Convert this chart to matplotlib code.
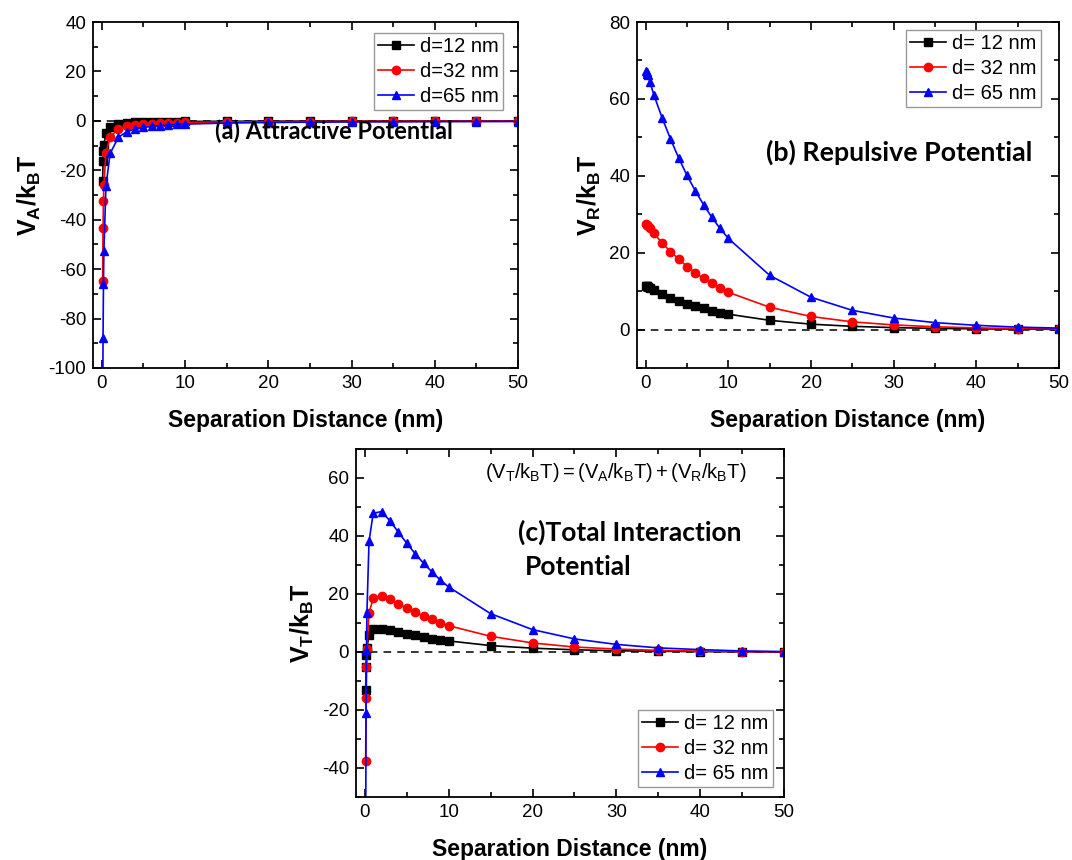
import matplotlib
matplotlib.use("Agg")
import matplotlib.pyplot as plt
from matplotlib.ticker import MultipleLocator

plt.rcParams['font.family'] = ['Liberation Sans', 'DejaVu Sans']
plt.rcParams['mathtext.fontset'] = 'custom'
plt.rcParams['mathtext.rm'] = 'Liberation Sans'
plt.rcParams['mathtext.it'] = 'Liberation Sans'
plt.rcParams['mathtext.bf'] = 'Liberation Sans:bold'
plt.rcParams['axes.unicode_minus'] = False

# separation distance (nm)
h = [0.1, 0.15, 0.2, 0.25, 0.5, 1, 2, 3, 4, 5, 6, 7, 8, 9, 10,
     15, 20, 25, 30, 35, 40, 45, 50]

# (a) attractive potential V_A/kBT
va_12 = [-24.4, -16.3, -12.2, -9.8, -4.9, -2.44, -1.22, -0.81, -0.61, -0.49, -0.41, -0.35,
         -0.31, -0.27, -0.24, -0.16, -0.12, -0.10, -0.08, -0.07, -0.06, -0.05, -0.05]
va_32 = [-65.0, -43.3, -32.5, -26.0, -13.0, -6.5, -3.25, -2.17, -1.63, -1.3, -1.08, -0.93,
         -0.81, -0.72, -0.65, -0.43, -0.33, -0.26, -0.22, -0.19, -0.16, -0.14, -0.13]
va_65 = [-132.0, -88.0, -66.0, -52.8, -26.4, -13.2, -6.6, -4.4, -3.3, -2.64, -2.2, -1.89,
         -1.65, -1.47, -1.32, -0.88, -0.66, -0.53, -0.44, -0.38, -0.33, -0.29, -0.26]

# (b) repulsive potential V_R/kBT
vr_12 = [11.3, 11.25, 11.2, 11.1, 10.8, 10.3, 9.2, 8.3, 7.5, 6.7, 6.1, 5.5,
         4.9, 4.4, 4.0, 2.4, 1.4, 0.84, 0.5, 0.3, 0.18, 0.11, 0.06]
vr_32 = [27.4, 27.3, 27.2, 27.0, 26.4, 25.0, 22.5, 20.3, 18.3, 16.4, 14.8, 13.3,
         12.0, 10.8, 9.7, 5.8, 3.4, 2.0, 1.2, 0.72, 0.43, 0.26, 0.15]
vr_65 = [67.3, 66.9, 66.6, 66.2, 64.5, 61.0, 55.0, 49.6, 44.6, 40.1, 36.1, 32.5,
         29.2, 26.3, 23.7, 14.1, 8.4, 5.0, 3.0, 1.8, 1.1, 0.63, 0.38]

# (c) total interaction potential V_T/kBT
vt_12 = [-13.1, -5.05, -1.0, 1.3, 5.9, 7.9, 8.0, 7.5, 6.9, 6.2, 5.7, 5.15,
         4.6, 4.1, 3.8, 2.2, 1.3, 0.74, 0.42, 0.23, 0.12, 0.06, 0.01]
vt_32 = [-37.6, -16.0, -5.3, 1.0, 13.4, 18.5, 19.25, 18.1, 16.7, 15.1, 13.7, 12.4,
         11.2, 10.1, 9.05, 5.4, 3.1, 1.7, 1.0, 0.53, 0.27, 0.12, 0.02]
vt_65 = [-64.7, -21.1, 0.6, 13.4, 38.1, 47.8, 48.4, 45.2, 41.3, 37.5, 33.9, 30.6,
         27.6, 24.8, 22.4, 13.2, 7.7, 4.5, 2.6, 1.4, 0.8, 0.34, 0.12]

labels_a = ["d=12 nm", "d=32 nm", "d=65 nm"]
labels_bc = ["d= 12 nm", "d= 32 nm", "d= 65 nm"]
styles = [("black", "s"), ("red", "o"), ("blue", "^")]

fig = plt.figure(figsize=(10.72, 8.6), dpi=100)
ax_a = fig.add_axes([0.0868, 0.5721, 0.3964, 0.4023])
ax_b = fig.add_axes([0.5942, 0.5721, 0.3937, 0.4023])
ax_c = fig.add_axes([0.3321, 0.0733, 0.3993, 0.4047])


def draw_panel(ax, series, labels, ylim, ylabel, legend_loc, legend_anchor):
    for (color, marker), vals, lab in zip(styles, series, labels):
        ax.plot(h, vals, color=color, marker=marker, markersize=6, linewidth=1.2, label=lab)
    ax.axhline(0, color="black", linestyle=(0, (5, 4)), linewidth=1.1, zorder=0)
    ax.set_xlim(-1.05, 50)
    ax.set_ylim(*ylim)
    ax.xaxis.set_major_locator(MultipleLocator(10))
    ax.xaxis.set_minor_locator(MultipleLocator(5))
    ax.yaxis.set_major_locator(MultipleLocator(20))
    ax.yaxis.set_minor_locator(MultipleLocator(10))
    ax.tick_params(which="both", direction="in", top=True, right=True, labelsize=13.5, width=1.2)
    ax.tick_params(which="major", length=6, pad=5)
    ax.tick_params(which="minor", length=3.5)
    for sp in ax.spines.values():
        sp.set_linewidth(1.3)
    ax.set_xlabel("Separation Distance (nm)", fontsize=16.5, fontweight="bold", labelpad=12)
    ax.set_ylabel(ylabel, fontsize=18, labelpad=4)
    leg = ax.legend(loc=legend_loc, bbox_to_anchor=legend_anchor, fontsize=14.5, fancybox=False,
                    framealpha=1, edgecolor="#999999", handlelength=1.8, handletextpad=0.3,
                    borderpad=0.2, labelspacing=0.3, borderaxespad=0)
    leg.get_frame().set_linewidth(1.0)


draw_panel(ax_a, [va_12, va_32, va_65], labels_a, (-100, 40), r"$\mathbf{V_A/k_BT}$",
           "upper right", (0.965, 0.968))
draw_panel(ax_b, [vr_12, vr_32, vr_65], labels_bc, (-10, 80), r"$\mathbf{V_R/k_BT}$",
           "upper right", (0.957, 0.977))
draw_panel(ax_c, [vt_12, vt_32, vt_65], labels_bc, (-50, 70), r"$\mathbf{V_T/k_BT}$",
           "lower right", (0.974, 0.029))

title_font = dict(family=["Lato", "DejaVu Sans"], fontweight="bold")
ax_a.text(0.287, 0.685, "(a) Attractive Potential", transform=ax_a.transAxes, va="center",
          fontsize=17, **title_font)
ax_b.text(0.306, 0.622, "(b) Repulsive Potential", transform=ax_b.transAxes, va="center",
          fontsize=19.3, **title_font)
ax_c.text(0.379, 0.759, "(c)Total Interaction", transform=ax_c.transAxes, va="center",
          fontsize=19, **title_font)
ax_c.text(0.395, 0.661, "Potential", transform=ax_c.transAxes, va="center",
          fontsize=19, **title_font)
ax_c.text(0.607, 0.931, r"$(V_T/k_BT)=(V_A/k_BT)+(V_R/k_BT)$", transform=ax_c.transAxes,
          ha="center", va="center", fontsize=14.5)

fig.savefig("out.png", dpi=100)
